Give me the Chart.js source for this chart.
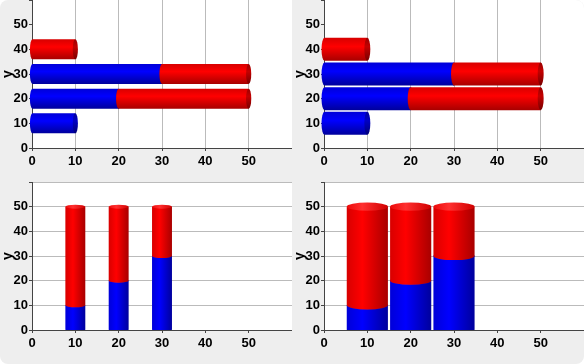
<!DOCTYPE html>
<html>
<head>
<meta charset="utf-8">
<script src="https://cdn.jsdelivr.net/npm/chart.js@4.4.1/dist/chart.umd.min.js"></script>
<style>
  html, body { margin: 0; padding: 0; background: #fff; }
  #wrap {
    width: 584px; height: 364px; background: #eeeeee; border-radius: 8px; overflow: hidden;
    display: grid; grid-template-columns: 292px 292px; grid-template-rows: 182px 182px;
  }
  .cell { position: relative; width: 292px; height: 182px; }
</style>
</head>
<body>
<div id="wrap">
  <div class="cell"><canvas id="c1"></canvas></div>
  <div class="cell"><canvas id="c2"></canvas></div>
  <div class="cell"><canvas id="c3"></canvas></div>
  <div class="cell"><canvas id="c4"></canvas></div>
</div>
<script>
// top row: horizontal stacked bars, positions on the y axis
const yPositions = [10, 20, 30, 40];
const blueTop = [10, 20, 30, 0];
const redTop = [0, 30, 20, 10];

// bottom row: vertical stacked bars, positions on the x axis
const xPositions = [10, 20, 30];
const blueBottom = [10, 20, 30];
const redBottom = [40, 30, 20];

const tickLabels = [0, 10, 20, 30, 40, 50];

const shades = {
  blue: { body: ['#0000d8', '#0000ff', '#00009c'], cap: ['#00009a', '#0000c4', '#000078'], top: ['#0808ec', '#2a2aff', '#0000c8'] },
  red:  { body: ['#d80000', '#ff0000', '#a80000'], cap: ['#9a0000', '#c40000', '#780000'], top: ['#ec0a0a', '#ff3030', '#d00000'] }
};

function grad(ctx, x0, y0, x1, y1, c) {
  const g = ctx.createLinearGradient(x0, y0, x1, y1);
  g.addColorStop(0, c[0]);
  g.addColorStop(0.38, c[1]);
  g.addColorStop(1, c[2]);
  return g;
}

function drawHorizontal(ctx, p, s) {
  const x0 = Math.min(p.base, p.x), x1 = Math.max(p.base, p.x);
  if (x1 - x0 < 0.5) return;
  const h = p.height, top = p.y - h / 2, rx = h * 0.13;
  ctx.fillStyle = grad(ctx, 0, top, 0, top + h, s.body);
  ctx.beginPath();
  ctx.ellipse(x0, p.y, rx, h / 2, 0, Math.PI / 2, Math.PI * 1.5);
  ctx.lineTo(x1, top);
  ctx.lineTo(x1, top + h);
  ctx.closePath();
  ctx.fill();
  ctx.fillStyle = grad(ctx, 0, top, 0, top + h, s.cap);
  ctx.beginPath();
  ctx.ellipse(x1, p.y, rx, h / 2, 0, 0, Math.PI * 2);
  ctx.fill();
}

function drawVertical(ctx, p, s) {
  const y1 = Math.min(p.base, p.y), y0 = Math.max(p.base, p.y);
  if (y0 - y1 < 0.5) return;
  const w = p.width, left = p.x - w / 2, ry = w * 0.1;
  ctx.fillStyle = grad(ctx, left, 0, left + w, 0, s.body);
  ctx.beginPath();
  ctx.ellipse(p.x, y0, w / 2, ry, 0, 0, Math.PI);
  ctx.lineTo(left, y1);
  ctx.lineTo(left + w, y1);
  ctx.closePath();
  ctx.fill();
  ctx.fillStyle = grad(ctx, left, 0, left + w, 0, s.top);
  ctx.beginPath();
  ctx.ellipse(p.x, y1, w / 2, ry, 0, 0, Math.PI * 2);
  ctx.fill();
}

const cylinders = {
  id: 'cylinders',
  beforeDraw(chart) {
    const a = chart.chartArea, ctx = chart.ctx;
    ctx.save();
    ctx.fillStyle = '#ffffff';
    ctx.fillRect(a.left, a.top, a.right - a.left, a.bottom - a.top);
    ctx.restore();
  },
  afterDatasetsDraw(chart) {
    const ctx = chart.ctx, a = chart.chartArea;
    const horizontal = chart.options.indexAxis === 'y';
    ctx.save();
    if (!horizontal) {
      ctx.beginPath();
      ctx.rect(a.left, a.top - 10, a.right - a.left, a.bottom - a.top + 10);
      ctx.clip();
    }
    chart.data.datasets.forEach((ds, i) => {
      const s = shades[ds.shade];
      chart.getDatasetMeta(i).data.forEach(bar => {
        const p = bar.getProps(['x', 'y', 'base', 'width', 'height'], true);
        if (horizontal) drawHorizontal(ctx, p, s); else drawVertical(ctx, p, s);
      });
    });
    ctx.restore();
  }
};

const tickFont = { family: '"Liberation Sans", Arial, sans-serif', size: 13, weight: 'bold' };

function linearAxis(showGrid, isX) {
  return {
    type: 'linear',
    min: 0,
    max: 60,
    stacked: true,
    offset: false,
    grid: {
      display: true,
      offset: false,
      drawOnChartArea: showGrid,
      color: '#bbbbbb',
      tickColor: '#444444',
      tickLength: 3
    },
    border: { display: true, color: '#444444', width: 1 },
    ticks: {
      stepSize: 10,
      color: '#000000',
      font: tickFont,
      padding: isX ? 3 : 1,
      maxRotation: 0,
      callback: v => tickLabels.includes(v) ? String(v) : ''
    },
    title: isX ? { display: false } : {
      display: true, text: 'y', color: '#000000', padding: 0,
      font: { family: '"Liberation Sans", Arial, sans-serif', size: 14, weight: 'bold' }
    },
    afterFit(scale) {
      if (isX) scale.height = 34; else scale.width = 32;
      scale.paddingTop = 0; scale.paddingBottom = 0;
      scale.paddingLeft = 0; scale.paddingRight = 0;
    }
  };
}

function makeChart(id, horizontal, barPercentage) {
  const pos = horizontal ? yPositions : xPositions;
  const blue = horizontal ? blueTop : blueBottom;
  const red = horizontal ? redTop : redBottom;
  const pts = vals => vals.map((v, i) => horizontal ? { x: v, y: pos[i] } : { x: pos[i], y: v });
  new Chart(document.getElementById(id), {
    type: 'bar',
    data: {
      datasets: [
        { label: 'blue', shade: 'blue', data: pts(blue), backgroundColor: 'rgba(0,0,0,0)', borderWidth: 0 },
        { label: 'red', shade: 'red', data: pts(red), backgroundColor: 'rgba(0,0,0,0)', borderWidth: 0 }
      ]
    },
    options: {
      indexAxis: horizontal ? 'y' : 'x',
      responsive: true,
      maintainAspectRatio: false,
      animation: false,
      barPercentage: barPercentage,
      categoryPercentage: 1,
      layout: { padding: 0 },
      plugins: { legend: { display: false }, tooltip: { enabled: false } },
      scales: {
        x: linearAxis(horizontal, true),
        y: linearAxis(!horizontal, false)
      }
    },
    plugins: [cylinders]
  });
}

makeChart('c1', true, 0.81);
makeChart('c2', true, 0.93);
makeChart('c3', false, 0.46);
makeChart('c4', false, 0.95);
</script>
</body>
</html>
